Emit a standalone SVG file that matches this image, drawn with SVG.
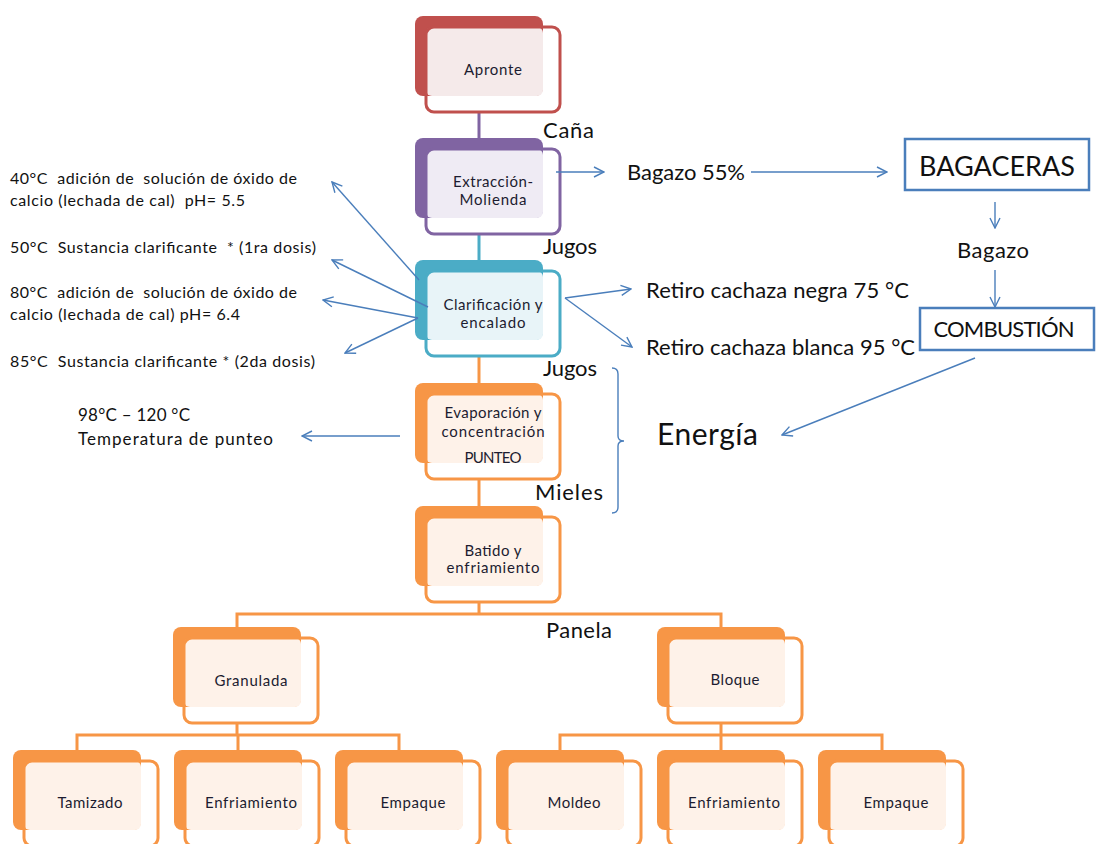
<svg xmlns="http://www.w3.org/2000/svg" width="1096" height="844" viewBox="0 0 1096 844">
<style>
.bk{stroke:none}
.ol{fill:none;stroke-width:3}
.nt{font-family:Lato,"Liberation Sans",sans-serif;font-size:15px;fill:#1c1c30;text-anchor:middle}
.lb{font-family:Lato,"Liberation Sans",sans-serif;font-size:22px;fill:#111}
.sm{font-family:Lato,"Liberation Sans",sans-serif;font-size:16px;fill:#111;white-space:pre}
.tree{fill:none;stroke-width:3}
.ar{fill:none;stroke:#4a7ebb;stroke-width:1.4}
.box{fill:#fff;stroke:#4a7ebb;stroke-width:2.5}
.red .bk{fill:#c0504d}.red .lt{fill:#f5eaea}.red .ol{stroke:#c0504d}
.pur .bk{fill:#8064a2}.pur .lt{fill:#efebf4}.pur .ol{stroke:#8064a2}
.tea .bk{fill:#4bacc6}.tea .lt{fill:#e8f4f8}.tea .ol{stroke:#4bacc6}
.ora .bk{fill:#f79646}.ora .lt{fill:#fef2e9}.ora .ol{stroke:#f79646}
</style>
<defs>
<marker id="ah" viewBox="0 0 12 12" refX="11" refY="6" markerWidth="12" markerHeight="12" markerUnits="userSpaceOnUse" orient="auto">
<path d="M1,1 L11,6 L1,11" fill="none" stroke="#4a7ebb" stroke-width="1.4"/>
</marker>
</defs>
<rect width="1096" height="844" fill="#fff"/>

<g id="connectors">
<line class="tree" x1="479" y1="112" x2="479" y2="138" stroke="#8064a2"/>
<line class="tree" x1="479" y1="234" x2="479" y2="260" stroke="#4bacc6"/>
<line class="tree" x1="479" y1="356" x2="479" y2="383" stroke="#f79646"/>
<line class="tree" x1="479" y1="479" x2="479" y2="506" stroke="#f79646"/>
<path class="tree" d="M479,602 V614 M237,627 V614 H721 V627" stroke="#f79646"/>
<path class="tree" d="M237,723 V735 M77,750 V735 H399 V750 M238,735 V750" stroke="#f79646"/>
<path class="tree" d="M721,723 V735 M560,750 V735 H882 V750 M721,735 V750" stroke="#f79646"/>
</g>

<g id="n-apronte" class="red">
<rect class="bk" x="415" y="16" width="128" height="80" rx="8"/>
<rect class="lt" x="426" y="27" width="117" height="69" rx="6"/>
<rect class="ol" x="426" y="27" width="134" height="85" rx="8"/>
<text class="nt" x="493" y="75" textLength="58">Apronte</text>
</g>
<g id="n-extraccion" class="pur">
<rect class="bk" x="415" y="138" width="128" height="80" rx="8"/>
<rect class="lt" x="426" y="149" width="117" height="69" rx="6"/>
<rect class="ol" x="426" y="149" width="134" height="85" rx="8"/>
<text class="nt" x="493" y="187" textLength="80">Extracción-</text>
<text class="nt" x="493" y="205" textLength="67">Molienda</text>
</g>
<g id="n-clarificacion" class="tea">
<rect class="bk" x="415" y="260" width="128" height="80" rx="8"/>
<rect class="lt" x="426" y="271" width="117" height="69" rx="6"/>
<rect class="ol" x="426" y="271" width="134" height="85" rx="8"/>
<text class="nt" x="493" y="310" textLength="99">Clarificación y</text>
<text class="nt" x="493" y="328" textLength="65">encalado</text>
</g>
<g id="n-evaporacion" class="ora">
<rect class="bk" x="415" y="383" width="128" height="80" rx="8"/>
<rect class="lt" x="426" y="394" width="117" height="69" rx="6"/>
<rect class="ol" x="426" y="394" width="134" height="85" rx="8"/>
<text class="nt" x="493" y="418" textLength="97">Evaporación y</text>
<text class="nt" x="493" y="437" textLength="103">concentración</text>
<text class="nt" x="493" y="463" textLength="57">PUNTEO</text>
</g>
<g id="n-batido" class="ora">
<rect class="bk" x="415" y="506" width="128" height="80" rx="8"/>
<rect class="lt" x="426" y="517" width="117" height="69" rx="6"/>
<rect class="ol" x="426" y="517" width="134" height="85" rx="8"/>
<text class="nt" x="493" y="556" textLength="57">Batido y</text>
<text class="nt" x="493" y="573" textLength="93">enfriamiento</text>
</g>
<g id="n-granulada" class="ora">
<rect class="bk" x="173" y="627" width="128" height="80" rx="8"/>
<rect class="lt" x="184" y="638" width="117" height="69" rx="6"/>
<rect class="ol" x="184" y="638" width="134" height="85" rx="8"/>
<text class="nt" x="251" y="686" textLength="73">Granulada</text>
</g>
<g id="n-bloque" class="ora">
<rect class="bk" x="657" y="627" width="128" height="80" rx="8"/>
<rect class="lt" x="668" y="638" width="117" height="69" rx="6"/>
<rect class="ol" x="668" y="638" width="134" height="85" rx="8"/>
<text class="nt" x="735" y="685" textLength="49">Bloque</text>
</g>
<g id="n-tamizado" class="ora">
<rect class="bk" x="13" y="750" width="128" height="80" rx="8"/>
<rect class="lt" x="24" y="761" width="117" height="69" rx="6"/>
<rect class="ol" x="24" y="761" width="134" height="85" rx="8"/>
<text class="nt" x="90" y="808" textLength="65">Tamizado</text>
</g>
<g id="n-enfriamiento1" class="ora">
<rect class="bk" x="174" y="750" width="128" height="80" rx="8"/>
<rect class="lt" x="185" y="761" width="117" height="69" rx="6"/>
<rect class="ol" x="185" y="761" width="134" height="85" rx="8"/>
<text class="nt" x="251" y="808" textLength="92">Enfriamiento</text>
</g>
<g id="n-empaque1" class="ora">
<rect class="bk" x="335" y="750" width="128" height="80" rx="8"/>
<rect class="lt" x="346" y="761" width="117" height="69" rx="6"/>
<rect class="ol" x="346" y="761" width="134" height="85" rx="8"/>
<text class="nt" x="413" y="808" textLength="65">Empaque</text>
</g>
<g id="n-moldeo" class="ora">
<rect class="bk" x="496" y="750" width="128" height="80" rx="8"/>
<rect class="lt" x="507" y="761" width="117" height="69" rx="6"/>
<rect class="ol" x="507" y="761" width="134" height="85" rx="8"/>
<text class="nt" x="574" y="808" textLength="53">Moldeo</text>
</g>
<g id="n-enfriamiento2" class="ora">
<rect class="bk" x="657" y="750" width="128" height="80" rx="8"/>
<rect class="lt" x="668" y="761" width="117" height="69" rx="6"/>
<rect class="ol" x="668" y="761" width="134" height="85" rx="8"/>
<text class="nt" x="734" y="808" textLength="92">Enfriamiento</text>
</g>
<g id="n-empaque2" class="ora">
<rect class="bk" x="818" y="750" width="128" height="80" rx="8"/>
<rect class="lt" x="829" y="761" width="117" height="69" rx="6"/>
<rect class="ol" x="829" y="761" width="134" height="85" rx="8"/>
<text class="nt" x="896" y="808" textLength="65">Empaque</text>
</g>

<g id="n-bagaceras">
<rect class="box" x="905" y="139" width="184" height="51"/>
<text class="lb" x="997" y="176" text-anchor="middle" style="font-size:27px" textLength="156">BAGACERAS</text>
</g>
<g id="n-combustion">
<rect class="box" x="920" y="308" width="174" height="42"/>
<text class="lb" x="1004" y="337" text-anchor="middle" textLength="141">COMBUSTIÓN</text>
</g>

<g id="arrows">
<line class="ar" x1="556" y1="172" x2="604" y2="172" marker-end="url(#ah)"/>
<line class="ar" x1="751" y1="172" x2="887" y2="172" marker-end="url(#ah)"/>
<line class="ar" x1="995" y1="202" x2="995" y2="228" marker-end="url(#ah)"/>
<line class="ar" x1="995" y1="270" x2="995" y2="307" marker-end="url(#ah)"/>
<line class="ar" x1="975" y1="358" x2="782" y2="435" marker-end="url(#ah)"/>
<line class="ar" x1="565" y1="298" x2="631" y2="289" marker-end="url(#ah)"/>
<line class="ar" x1="565" y1="298" x2="632" y2="347" marker-end="url(#ah)"/>
<line class="ar" x1="419" y1="280" x2="332" y2="182" marker-end="url(#ah)"/>
<line class="ar" x1="428" y1="307" x2="332" y2="260" marker-end="url(#ah)"/>
<line class="ar" x1="418" y1="318" x2="323" y2="300" marker-end="url(#ah)"/>
<line class="ar" x1="418" y1="318" x2="345" y2="353" marker-end="url(#ah)"/>
<line class="ar" x1="400" y1="436" x2="302" y2="436" marker-end="url(#ah)"/>
<path class="ar" d="M612,368 Q618,368 618,374 V436 Q618,441 624,441 Q618,441 618,446 V507 Q618,513 612,513"/>
</g>

<g id="labels">
<text class="lb" x="543" y="138" textLength="51">Caña</text>
<text class="lb" x="543" y="254" textLength="54">Jugos</text>
<text class="lb" x="543" y="376" textLength="54">Jugos</text>
<text class="lb" x="535" y="500" textLength="68">Mieles</text>
<text class="lb" x="546" y="638" textLength="66">Panela</text>
<text class="lb" x="627" y="180" textLength="118">Bagazo 55%</text>
<text class="lb" x="957" y="258" textLength="72">Bagazo</text>
<text class="lb" x="646" y="298" textLength="263">Retiro cachaza negra 75 °C</text>
<text class="lb" x="646" y="355" textLength="269">Retiro cachaza blanca 95 °C</text>
<text class="lb" x="657" y="445" style="font-size:30px" textLength="101">Energía</text>
<text class="sm" x="10" y="184" xml:space="preserve" textLength="287">40°C  adición de  solución de óxido de</text>
<text class="sm" x="10" y="206" xml:space="preserve" textLength="235">calcio (lechada de cal)  pH= 5.5</text>
<text class="sm" x="10" y="253" xml:space="preserve" textLength="306">50°C  Sustancia clarificante  * (1ra dosis)</text>
<text class="sm" x="10" y="298" xml:space="preserve" textLength="287">80°C  adición de  solución de óxido de</text>
<text class="sm" x="10" y="320" xml:space="preserve" textLength="230">calcio (lechada de cal) pH= 6.4</text>
<text class="sm" x="10" y="367" xml:space="preserve" textLength="305">85°C  Sustancia clarificante * (2da dosis)</text>
<text class="sm" x="78" y="421" style="font-size:17px" textLength="112">98°C – 120 °C</text>
<text class="sm" x="78" y="445" style="font-size:17px" textLength="195">Temperatura de punteo</text>
</g>
</svg>
